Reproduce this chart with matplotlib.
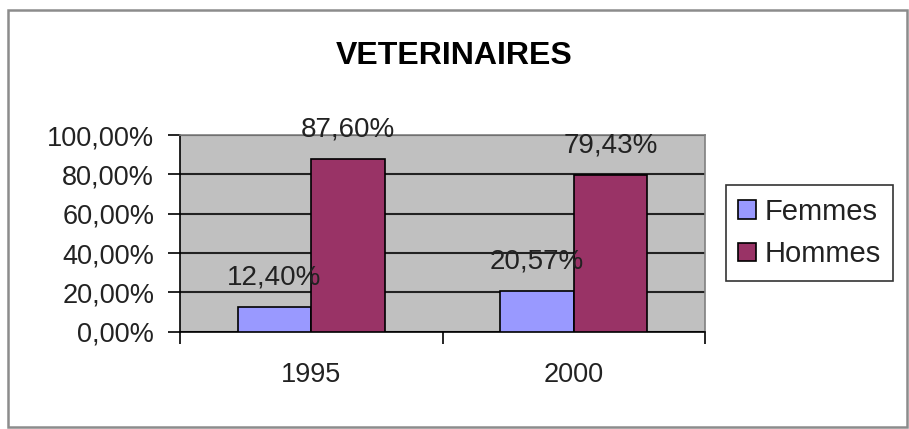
import numpy as np
import matplotlib.pyplot as plt
from matplotlib.patches import Rectangle

### Data
YEARS = ["1995", "2000"]
FEMMES = [12.40, 20.57]
HOMMES = [87.60, 79.43]
SERIES = ["Femmes", "Hommes"]
Y_TICKS = [0, 20, 40, 60, 80, 100]

### Old Excel palette
COLOR_FEMMES = "#9999FF"
COLOR_HOMMES = "#993366"
BACKGROUND = "#C0C0C0"

FONT = "Liberation Sans"
BAR_WIDTH = 0.28


def fmt(value):
    # French decimal comma, two decimals
    return ("%.2f%%" % value).replace(".", ",")


fig = plt.figure(figsize=(9.09, 4.29), dpi=100)
plt.rcParams["font.family"] = [FONT, "DejaVu Sans"]

# Outer frame of the chart object
fig.patches.append(Rectangle((8 / 909, 2 / 429), 899 / 909, 417 / 429,
                             transform=fig.transFigure, fill=False,
                             edgecolor="#8c8c8c", linewidth=1.8))

ax = fig.add_axes([0.198, 0.2268, 0.5776, 0.4585])
ax.set_facecolor(BACKGROUND)

x = np.arange(len(YEARS))
bars_f = ax.bar(x - BAR_WIDTH / 2, FEMMES, BAR_WIDTH, color=COLOR_FEMMES,
                edgecolor="black", linewidth=1.2, label=SERIES[0], zorder=3)
bars_h = ax.bar(x + BAR_WIDTH / 2, HOMMES, BAR_WIDTH, color=COLOR_HOMMES,
                edgecolor="black", linewidth=1.2, label=SERIES[1], zorder=3)

# Value labels above each bar
for bars, values in ((bars_f, FEMMES), (bars_h, HOMMES)):
    for bar, value in zip(bars, values):
        ax.annotate(fmt(value), (bar.get_x() + bar.get_width() / 2, value),
                    xytext=(0, 12), textcoords="offset points",
                    ha="center", va="bottom", fontsize=20, color="#222222",
                    zorder=4, annotation_clip=False)

ax.set_xlim(-0.5, len(YEARS) - 0.5)
ax.set_ylim(0, 100)

# Y axis
ax.set_yticks(Y_TICKS)
ax.set_yticklabels([fmt(v) for v in Y_TICKS], fontsize=19.5, color="#222222")
ax.tick_params(axis="y", direction="out", length=8.6, width=1.2, pad=10)
ax.yaxis.grid(True, color="#222222", linewidth=1.5, zorder=1)
ax.set_axisbelow(True)

# X axis: labels at centers, tick marks between categories
ax.set_xticks(x)
ax.set_xticklabels(YEARS, fontsize=19.5, color="#222222")
ax.tick_params(axis="x", which="major", length=0, pad=22)
ax.set_xticks(np.arange(-0.5, len(YEARS)), minor=True)
ax.tick_params(axis="x", which="minor", direction="out", length=8.6, width=1.2)

for side in ("left", "bottom"):
    ax.spines[side].set_color("black")
    ax.spines[side].set_linewidth(1.2)
for side in ("top", "right"):
    ax.spines[side].set_color("#808080")
    ax.spines[side].set_linewidth(1.2)

fig.text(0.5, 0.869, "VETERINAIRES", ha="center", va="center",
         fontsize=23, fontweight="bold", color="black")

leg = fig.legend(handles=[bars_f, bars_h], labels=SERIES, loc="center",
                 bbox_to_anchor=(0.8905, 0.4569), fontsize=21,
                 frameon=True, fancybox=False, handlelength=0.6,
                 handleheight=0.6, handletextpad=0.3, labelspacing=0.5,
                 borderpad=0.42, borderaxespad=0)
leg.get_frame().set_edgecolor("black")
leg.get_frame().set_linewidth(1.2)
for text in leg.get_texts():
    text.set_color("#222222")

fig.savefig("out.png", dpi=100)
